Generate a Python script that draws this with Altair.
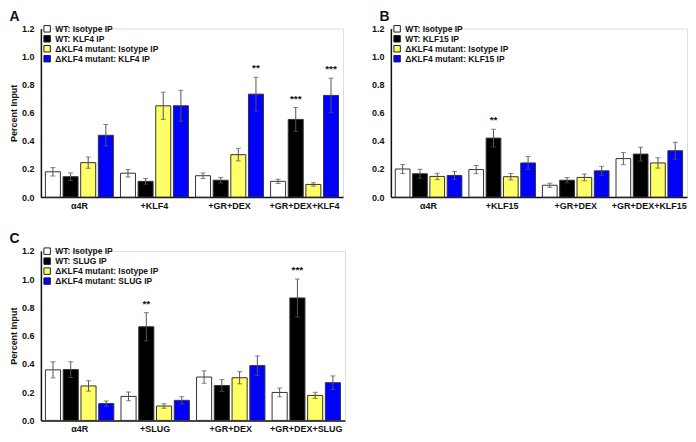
import altair as alt
import pandas as pd

FONT = "Liberation Sans"
TXT = "#111111"
COLORS = ["#FFFFFF", "#000000", "#FFFF66", "#0000FF"]

# ---------------- Panel A ----------------
cats_A = ["α4R", "+KLF4", "+GR+DEX", "+GR+DEX+KLF4"]
series_A = ["WT: Isotype IP", "WT: KLF4 IP", "ΔKLF4 mutant: Isotype IP", "ΔKLF4 mutant: KLF4 IP"]
vals_A = [[0.180, 0.145, 0.245, 0.440],
          [0.170, 0.112, 0.650, 0.650],
          [0.152, 0.120, 0.302, 0.733],
          [0.112, 0.553, 0.090, 0.724]]
errs_A = [[0.030, 0.027, 0.040, 0.077],
          [0.027, 0.020, 0.097, 0.110],
          [0.020, 0.020, 0.045, 0.120],
          [0.015, 0.085, 0.012, 0.123]]
stars_A = [["", "", "", ""],
           ["", "", "", ""],
           ["", "", "", "**"],
           ["", "***", "", "***"]]

# ---------------- Panel B ----------------
cats_B = ["α4R", "+KLF15", "+GR+DEX", "+GR+DEX+KLF15"]
series_B = ["WT: Isotype IP", "WT: KLF15 IP", "ΔKLF4 mutant: Isotype IP", "ΔKLF4 mutant: KLF15 IP"]
vals_B = [[0.200, 0.166, 0.147, 0.154],
          [0.196, 0.420, 0.145, 0.243],
          [0.084, 0.120, 0.140, 0.187],
          [0.274, 0.306, 0.243, 0.330]]
errs_B = [[0.032, 0.032, 0.023, 0.028],
          [0.029, 0.063, 0.023, 0.046],
          [0.015, 0.019, 0.024, 0.032],
          [0.043, 0.049, 0.037, 0.060]]
stars_B = [["", "", "", ""],
           ["", "**", "", ""],
           ["", "", "", ""],
           ["", "", "", ""]]

# ---------------- Panel C ----------------
cats_C = ["α4R", "+SLUG", "+GR+DEX", "+GR+DEX+SLUG"]
series_C = ["WT: Isotype IP", "WT: SLUG IP", "ΔKLF4 mutant: Isotype IP", "ΔKLF4 mutant: SLUG IP"]
vals_C = [[0.358, 0.360, 0.244, 0.119],
          [0.170, 0.663, 0.102, 0.142],
          [0.307, 0.247, 0.302, 0.388],
          [0.198, 0.867, 0.177, 0.267]]
errs_C = [[0.057, 0.056, 0.037, 0.019],
          [0.031, 0.100, 0.016, 0.026],
          [0.044, 0.042, 0.043, 0.069],
          [0.031, 0.134, 0.022, 0.048]]
stars_C = [["", "", "", ""],
           ["", "**", "", ""],
           ["", "", "", ""],
           ["", "***", "", ""]]

y_ticks = [0.0, 0.2, 0.4, 0.6, 0.8, 1.0, 1.2]


def panel(letter, cats, series, vals, errs, stars, width, height, ytitle, title_dx):
    rows = []
    for i, c in enumerate(cats):
        for j, s in enumerate(series):
            v = vals[i][j]
            e = errs[i][j]
            rows.append(dict(cat=c, ser=s, v=v, lo=v - e, hi=v + e, star=stars[i][j]))
    df = pd.DataFrame(rows)

    x = alt.X("cat:N", sort=cats,
              scale=alt.Scale(paddingInner=0.095, paddingOuter=0.06),
              axis=alt.Axis(title=None, labelAngle=0, ticks=False, domainColor=TXT,
                            domainWidth=1.5, labelPadding=4, labelFontSize=9,
                            labelFontWeight="bold", labelColor=TXT))
    xo = alt.XOffset("ser:N", sort=series, scale=alt.Scale(paddingInner=0.15, paddingOuter=0))
    yscale = alt.Scale(domain=[0, 1.2], nice=False)
    if ytitle:
        yaxis = alt.Axis(values=y_ticks, format=".1f", grid=False, ticks=False,
                         domainColor=TXT, domainWidth=1.5, labelPadding=7,
                         labelFontSize=9, labelFontWeight="bold", labelColor=TXT,
                         title=ytitle, titleFontSize=9, titleFontWeight="bold",
                         titleColor=TXT, titlePadding=3)
    else:
        yaxis = alt.Axis(values=y_ticks, format=".1f", grid=False, ticks=False,
                         domainColor=TXT, domainWidth=1.5, labelPadding=7,
                         labelFontSize=9, labelFontWeight="bold", labelColor=TXT,
                         title=None)
    color = alt.Color("ser:N", sort=series,
                      scale=alt.Scale(domain=series, range=COLORS),
                      legend=alt.Legend(title=None, orient="none", legendX=2, legendY=-4,
                                        padding=0,
                                        symbolType="square", symbolSize=42,
                                        symbolStrokeColor="#222", symbolStrokeWidth=1,
                                        labelFontSize=8.5, labelFontWeight="bold",
                                        labelColor=TXT, labelFont=FONT, rowPadding=-2,
                                        labelOffset=4))
    base = alt.Chart(df)
    bars = base.mark_bar(stroke="#333", strokeWidth=1).encode(
        x=x, xOffset=xo, y=alt.Y("v:Q", scale=yscale, axis=yaxis), color=color)
    rules = base.mark_rule(color="#555", strokeWidth=1).encode(
        x=x, xOffset=xo, y=alt.Y("lo:Q", scale=yscale, axis=yaxis), y2="hi:Q")
    cap_lo = base.mark_tick(color="#555", size=5, thickness=1).encode(
        x=x, xOffset=xo, y=alt.Y("lo:Q", scale=yscale, axis=yaxis))
    cap_hi = base.mark_tick(color="#555", size=5, thickness=1).encode(
        x=x, xOffset=xo, y=alt.Y("hi:Q", scale=yscale, axis=yaxis))
    star_txt = base.transform_filter("datum.star != ''").mark_text(
        dy=-6, baseline="alphabetic", fontWeight="bold", fontSize=10, font=FONT, color=TXT
    ).encode(x=x, xOffset=xo, y=alt.Y("hi:Q", scale=yscale, axis=yaxis), text="star:N")

    return alt.layer(bars, rules, cap_lo, cap_hi, star_txt).properties(
        width=width, height=height,
        title=alt.TitleParams(letter, anchor="start", fontSize=14, fontWeight="bold",
                              font=FONT, color=TXT, offset=1, dx=title_dx))


pA = panel("A", cats_A, series_A, vals_A, errs_A, stars_A, 303, 169, "Percent Input", 0)
pB = panel("B", cats_B, series_B, vals_B, errs_B, stars_B, 297, 169, None, 8)
pC = panel("C", cats_C, series_C, vals_C, errs_C, stars_C, 305, 170, "Percent Input", 0)

top = alt.hconcat(pA, pB, spacing=26).resolve_scale(
    color="independent", x="independent", xOffset="independent", y="independent")
chart = alt.vconcat(top, pC, spacing=20).resolve_scale(
    color="independent", x="independent", xOffset="independent", y="independent"
).properties(padding=0).configure_view(stroke=None).configure_axis(
    labelFont=FONT, titleFont=FONT
).configure(background="white")

chart.save("out.html", embed_options={"renderer": "svg", "actions": False})
